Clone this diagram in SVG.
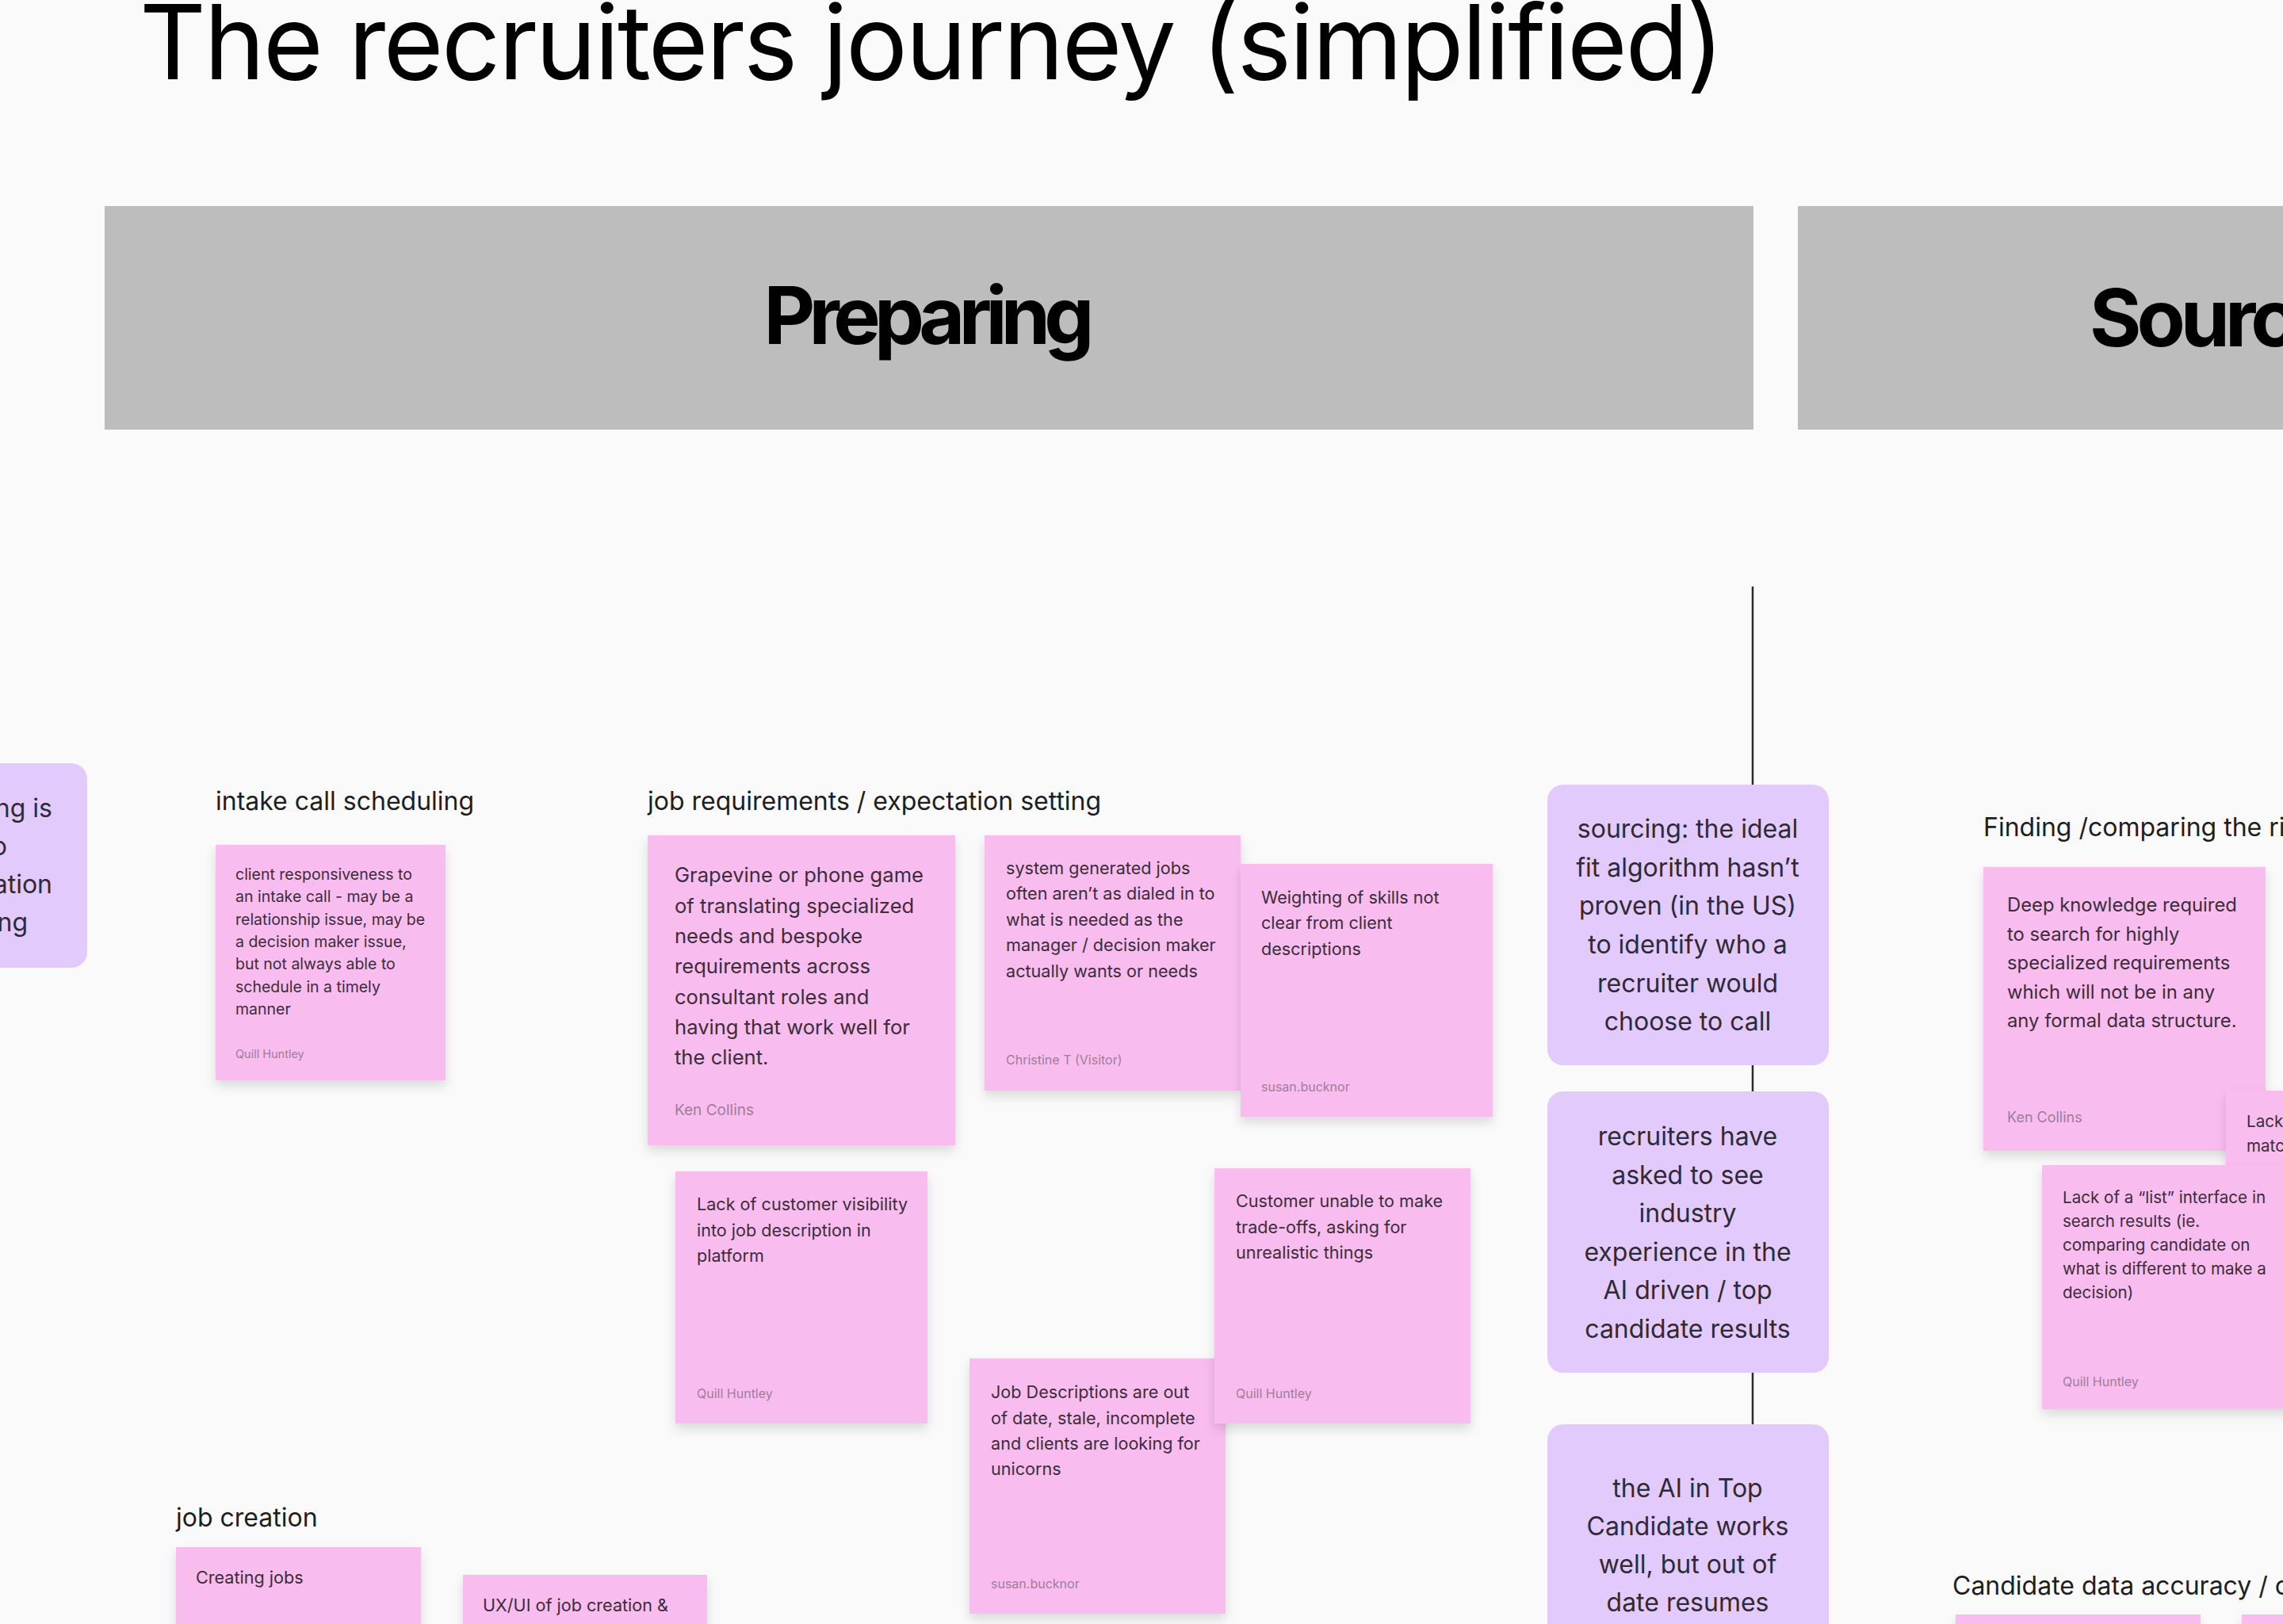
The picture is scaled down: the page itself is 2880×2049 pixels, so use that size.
<svg xmlns="http://www.w3.org/2000/svg" width="2880" height="2049" viewBox="0 0 2880 2049">
<defs>
<filter id="sh" x="-20%" y="-20%" width="140%" height="150%">
<feDropShadow dx="0" dy="7" stdDeviation="7" flood-color="#000" flood-opacity="0.13"/>
</filter>
<style>
text{font-family:Inter,"Noto Sans","Liberation Sans",sans-serif}
.title{font-size:130px;fill:#000}
.hdr{fill:#bdbdbd}
.hdrt{font-size:100px;font-weight:700;fill:#000}
.lbl{font-size:32px;fill:#1e1e1e}
.sticky{fill:#f9bcef;filter:url(#sh)}
.purple{fill:#e2cbfc}
.pt{font-size:32px;fill:#2f2a36;text-anchor:middle}
.b20{font-size:19.5px;fill:#3b2d39}
.b21{font-size:20.6px;fill:#3b2d39}
.b22{font-size:21.6px;fill:#3b2d39}
.b24{font-size:23.8px;fill:#3b2d39}
.b26{font-size:25.6px;fill:#3b2d39}
.au{fill:#9d7e98}
.conn{stroke:#2b2b2b;stroke-width:2.5;fill:none}
</style>
</defs>
<rect x="0" y="0" width="2880" height="2049" fill="#fafafa"/>

<g id="title"><text class="title" x="176" y="100" textLength="1999" lengthAdjust="spacing">The recruiters journey (simplified)</text></g>

<g id="header-preparing">
<rect class="hdr" x="132" y="260" width="2080" height="282"/>
<text class="hdrt" x="1172" y="434" text-anchor="middle" textLength="417">Preparing</text>
</g>
<g id="header-sourcing">
<rect class="hdr" x="2268" y="260" width="640" height="282"/>
<text class="hdrt" x="2636" y="437" letter-spacing="-6">Sourc</text>
</g>

<g id="connectors">
<line class="conn" x1="2211" y1="740" x2="2211" y2="1800"/>
</g>

<g id="left-purple">
<rect class="purple" x="-200" y="963" width="310" height="258" rx="20"/>
<text class="pt" x="66" y="1031" style="text-anchor:end">ng is</text>
<text class="pt" x="9" y="1079" style="text-anchor:end">o</text>
<text class="pt" x="66" y="1127" style="text-anchor:end">ation</text>
<text class="pt" x="35" y="1175" style="text-anchor:end">ng</text>
</g>

<g id="label-intake"><text class="lbl" x="272" y="1022">intake call scheduling</text></g>
<g id="label-jobreq"><text class="lbl" x="817" y="1022">job requirements / expectation setting</text></g>
<g id="label-jobcreation"><text class="lbl" x="222" y="1926">job creation</text></g>
<g id="label-finding"><text class="lbl" x="2502" y="1055">Finding /comparing the ri</text></g>
<g id="label-candidate"><text class="lbl" x="2463" y="2012">Candidate data accuracy / c</text></g>

<g id="sticky-intake">
<rect class="sticky" x="272" y="1066" width="290" height="297"/>
<text class="b20" x="297" y="1110">client responsiveness to</text>
<text class="b20" x="297" y="1138">an intake call - may be a</text>
<text class="b20" x="297" y="1167">relationship issue, may be</text>
<text class="b20" x="297" y="1195">a decision maker issue,</text>
<text class="b20" x="297" y="1223">but not always able to</text>
<text class="b20" x="297" y="1252">schedule in a timely</text>
<text class="b20" x="297" y="1280">manner</text>
<text class="au" x="297" y="1335" font-size="14.5">Quill Huntley</text>
</g>

<g id="sticky-grapevine">
<rect class="sticky" x="817" y="1054" width="388" height="391"/>
<text class="b26" x="851" y="1113">Grapevine or phone game</text>
<text class="b26" x="851" y="1152">of translating specialized</text>
<text class="b26" x="851" y="1190">needs and bespoke</text>
<text class="b26" x="851" y="1228">requirements across</text>
<text class="b26" x="851" y="1267">consultant roles and</text>
<text class="b26" x="851" y="1305">having that work well for</text>
<text class="b26" x="851" y="1343">the client.</text>
<text class="au" x="851" y="1407" font-size="19">Ken Collins</text>
</g>

<g id="sticky-system">
<rect class="sticky" x="1242" y="1054" width="323" height="322"/>
<text class="b22" x="1269" y="1103">system generated jobs</text>
<text class="b22" x="1269" y="1135">often aren’t as dialed in to</text>
<text class="b22" x="1269" y="1168">what is needed as the</text>
<text class="b22" x="1269" y="1200">manager / decision maker</text>
<text class="b22" x="1269" y="1233">actually wants or needs</text>
<text class="au" x="1269" y="1343" font-size="16">Christine T (Visitor)</text>
</g>

<g id="sticky-weighting">
<rect class="sticky" x="1565" y="1090" width="318" height="319"/>
<text class="b22" x="1591" y="1140">Weighting of skills not</text>
<text class="b22" x="1591" y="1172">clear from client</text>
<text class="b22" x="1591" y="1205">descriptions</text>
<text class="au" x="1591" y="1377" font-size="16">susan.bucknor</text>
</g>

<g id="sticky-visibility">
<rect class="sticky" x="852" y="1478" width="318" height="318"/>
<text class="b22" x="879" y="1527">Lack of customer visibility</text>
<text class="b22" x="879" y="1560">into job description in</text>
<text class="b22" x="879" y="1592">platform</text>
<text class="au" x="879" y="1764" font-size="16">Quill Huntley</text>
</g>

<g id="sticky-jobdesc">
<rect class="sticky" x="1223" y="1714" width="323" height="322"/>
<text class="b22" x="1250" y="1764">Job Descriptions are out</text>
<text class="b22" x="1250" y="1797">of date, stale, incomplete</text>
<text class="b22" x="1250" y="1829">and clients are looking for</text>
<text class="b22" x="1250" y="1861">unicorns</text>
<text class="au" x="1250" y="2004" font-size="16">susan.bucknor</text>
</g>

<g id="sticky-tradeoffs">
<rect class="sticky" x="1532" y="1474" width="323" height="322"/>
<text class="b22" x="1559" y="1523">Customer unable to make</text>
<text class="b22" x="1559" y="1556">trade-offs, asking for</text>
<text class="b22" x="1559" y="1588">unrealistic things</text>
<text class="au" x="1559" y="1764" font-size="16">Quill Huntley</text>
</g>

<g id="sticky-creating">
<rect class="sticky" x="222" y="1952" width="309" height="140"/>
<text class="b22" x="247" y="1998">Creating jobs</text>
</g>

<g id="sticky-uxui">
<rect class="sticky" x="584" y="1987" width="308" height="120"/>
<text class="b22" x="609" y="2033">UX/UI of job creation &amp;</text>
</g>

<g id="purple-sourcing">
<rect class="purple" x="1952" y="990" width="355" height="354" rx="20"/>
<text class="pt" x="2129" y="1057">sourcing: the ideal</text>
<text class="pt" x="2129" y="1106">fit algorithm hasn’t</text>
<text class="pt" x="2129" y="1154">proven (in the US)</text>
<text class="pt" x="2129" y="1203">to identify who a</text>
<text class="pt" x="2129" y="1252">recruiter would</text>
<text class="pt" x="2129" y="1300">choose to call</text>
</g>

<g id="purple-industry">
<rect class="purple" x="1952" y="1377" width="355" height="355" rx="20"/>
<text class="pt" x="2129" y="1445">recruiters have</text>
<text class="pt" x="2129" y="1494">asked to see</text>
<text class="pt" x="2129" y="1542">industry</text>
<text class="pt" x="2129" y="1591">experience in the</text>
<text class="pt" x="2129" y="1639">AI driven / top</text>
<text class="pt" x="2129" y="1688">candidate results</text>
</g>

<g id="purple-topcandidate">
<rect class="purple" x="1952" y="1797" width="355" height="320" rx="20"/>
<text class="pt" x="2129" y="1889">the AI in Top</text>
<text class="pt" x="2129" y="1937">Candidate works</text>
<text class="pt" x="2129" y="1985">well, but out of</text>
<text class="pt" x="2129" y="2033">date resumes</text>
</g>

<g id="sticky-deep">
<rect class="sticky" x="2502" y="1094" width="356" height="358"/>
<text class="b24" x="2532" y="1150">Deep knowledge required</text>
<text class="b24" x="2532" y="1187">to search for highly</text>
<text class="b24" x="2532" y="1223">specialized requirements</text>
<text class="b24" x="2532" y="1260">which will not be in any</text>
<text class="b24" x="2532" y="1296">any formal data structure.</text>
<text class="au" x="2532" y="1416" font-size="18">Ken Collins</text>
</g>

<g id="sticky-lack-match">
<rect class="sticky" x="2808" y="1376" width="320" height="320"/>
<text class="b21" x="2834" y="1422">Lack</text>
<text class="b21" x="2834" y="1453">matc</text>
</g>

<g id="sticky-list">
<rect class="sticky" x="2576" y="1470" width="320" height="308"/>
<text class="b21" x="2602" y="1518">Lack of a “list” interface in</text>
<text class="b21" x="2602" y="1548">search results (ie.</text>
<text class="b21" x="2602" y="1578">comparing candidate on</text>
<text class="b21" x="2602" y="1608">what is different to make a</text>
<text class="b21" x="2602" y="1638">decision)</text>
<text class="au" x="2602" y="1749" font-size="16">Quill Huntley</text>
</g>

<g id="sticky-data1">
<rect class="sticky" x="2467" y="2037" width="309" height="60"/>
</g>
<g id="sticky-data2">
<rect class="sticky" x="2828" y="2037" width="100" height="60"/>
</g>
</svg>
